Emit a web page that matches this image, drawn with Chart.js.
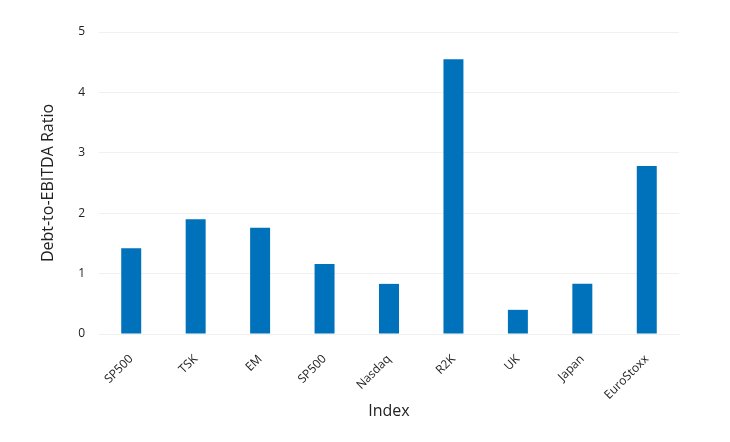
<!DOCTYPE html>
<html>
<head>
<meta charset="utf-8">
<script src="https://cdn.jsdelivr.net/npm/chart.js@4"></script>
<style>
  html, body { margin: 0; padding: 0; background: #fff; }
  #wrap { width: 730px; height: 442px; }
</style>
</head>
<body>
<div id="wrap"><canvas id="myChart"></canvas></div>
<script>
const categories = ['SP500', 'TSK', 'EM', 'SP500', 'Nasdaq', 'R2K', 'UK', 'Japan', 'EuroStoxx'];
const ratios = [1.42, 1.90, 1.76, 1.16, 0.83, 4.55, 0.40, 0.83, 2.78];
const yTicks = [0, 1, 2, 3, 4, 5];

const FONT = "'Open Sans', sans-serif";

const data = {
    labels: categories,
    datasets: [{
        label: 'Debt-to-EBITDA Ratio',
        data: ratios,
        backgroundColor: '#0072bc',
        borderWidth: 0,
        barPercentage: 0.62,
        categoryPercentage: 0.5
    }]
};

const config = {
    type: 'bar',
    data: data,
    options: {
        responsive: true,
        maintainAspectRatio: false,
        animation: false,
        layout: { padding: { left: 35, right: 51, top: 32, bottom: 17 } },
        plugins: {
            legend: { display: false },
            tooltip: { enabled: false }
        },
        scales: {
            x: {
                grid: { display: false, drawTicks: false },
                border: { display: true, color: '#f0f0f0' },
                ticks: {
                    color: '#222',
                    font: { family: FONT, size: 12 },
                    minRotation: 45,
                    maxRotation: 45,
                    padding: 18
                },
                title: {
                    display: true,
                    text: 'Index',
                    color: '#222',
                    font: { family: FONT, size: 16 }
                },
                afterFit: s => { s.height = 442 - 334 - 17; }
            },
            y: {
                min: 0,
                max: 5,
                afterBuildTicks: s => { s.ticks = yTicks.map(v => ({ value: v })); },
                grid: { color: '#f0f0f0', drawTicks: false },
                border: { display: false },
                ticks: {
                    color: '#222',
                    font: { family: FONT, size: 12 },
                    padding: 14
                },
                title: {
                    display: true,
                    text: 'Debt-to-EBITDA Ratio',
                    color: '#222',
                    font: { family: FONT, size: 16 }
                },
                afterFit: s => { s.width = 99 - 35; }
            }
        }
    }
};

let myChart = new Chart(document.getElementById('myChart'), config);
</script>
</body>
</html>
